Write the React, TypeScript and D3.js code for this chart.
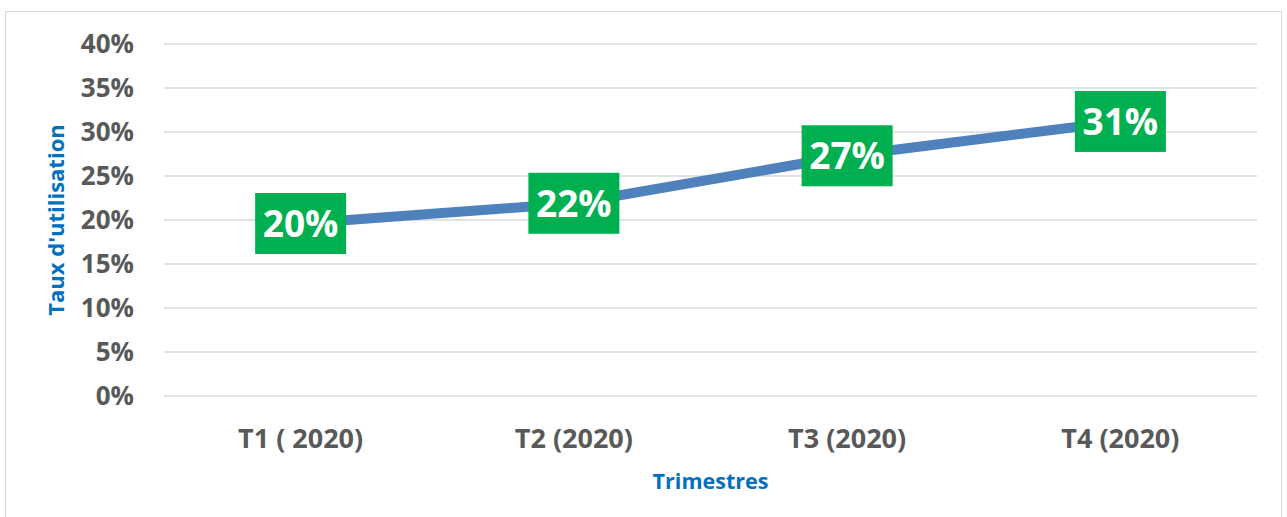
import React from 'react';
import * as d3 from 'd3';

const categories = ['T1 ( 2020)', 'T2 (2020)', 'T3 (2020)', 'T4 (2020)'];
const usageRates = [0.196, 0.219, 0.273, 0.312];
const yTicks = [0, 0.05, 0.1, 0.15, 0.2, 0.25, 0.3, 0.35, 0.4];
const xTitle = 'Trimestres';
const yTitle = "Taux d'utilisation";

const font = "'Open Sans', 'Liberation Sans', sans-serif";

const App = () => {
  const svgWidth = 1287;
  const svgHeight = 517;
  const plot = { left: 164, right: 1257, top: 44, bottom: 396 };

  const x = d3.scaleBand<string>()
    .domain(categories)
    .range([plot.left, plot.right]);

  const y = d3.scaleLinear()
    .domain([0, 0.4])
    .range([plot.bottom, plot.top]);

  const cx = (i: number) => (x(categories[i]) as number) + x.bandwidth() / 2;

  const line = d3.line<number>()
    .x((d, i) => cx(i))
    .y(d => y(d));

  const pct = d3.format('.0%');
  const boxW = 91;
  const boxH = 61;
  const gridColor = '#d9d9d9';
  const tickColor = '#595959';
  const titleColor = '#0070c0';

  return (
    <svg width={svgWidth} height={svgHeight} style={{ position: 'absolute', left: 0, top: 0 }}>
      <rect x={5.5} y={11.5} width={1276} height={520} fill="#fff" stroke={gridColor} strokeWidth={1} />

      <g className="grid">
        {yTicks.map(t => (
          <line key={t} x1={plot.left} x2={plot.right} y1={y(t)} y2={y(t)} stroke={gridColor} strokeWidth={1.5} />
        ))}
      </g>

      <g className="axis axis--y" fontFamily={font} fontWeight="bold" fontSize={26} fill={tickColor} textAnchor="end">
        {yTicks.map(t => (
          <text key={t} x={134} y={y(t)} dy="0.36em">{pct(t)}</text>
        ))}
      </g>

      <g className="axis axis--x" fontFamily={font} fontWeight="bold" fontSize={27} fill={tickColor} textAnchor="middle">
        {categories.map((c, i) => (
          <text key={c} x={cx(i)} y={448}>{c}</text>
        ))}
      </g>

      <text x={(plot.left + plot.right) / 2} y={489} textAnchor="middle" fontFamily={font} fontWeight="bold" fontSize={21.5} fill={titleColor}>
        {xTitle}
      </text>
      <text
        transform={`translate(64, ${(plot.top + plot.bottom) / 2}) rotate(-90)`}
        textAnchor="middle" fontFamily={font} fontWeight="bold" fontSize={22} fill={titleColor}
      >
        {yTitle}
      </text>

      <path d={line(usageRates) || ''} fill="none" stroke="#4f81bd" strokeWidth={10} strokeLinejoin="round" />

      <g className="labels">
        {usageRates.map((v, i) => (
          <g key={i} transform={`translate(${cx(i)}, ${y(v)})`}>
            <rect x={-boxW / 2} y={-boxH / 2} width={boxW} height={boxH} fill="#00b050" />
            <text textAnchor="middle" dy="0.36em" fontFamily={font} fontWeight="bold" fontSize={37} fill="#fff">
              {pct(v)}
            </text>
          </g>
        ))}
      </g>
    </svg>
  );
};

export default App;
